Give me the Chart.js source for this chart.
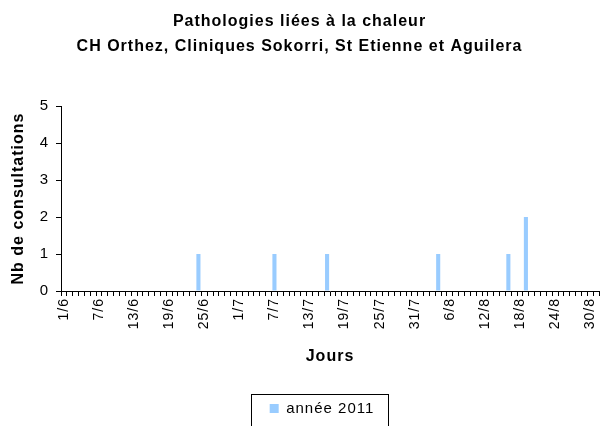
<!DOCTYPE html>
<html><head><meta charset="utf-8">
<script src="https://cdn.jsdelivr.net/npm/chart.js@4"></script>
<style>html,body{margin:0;padding:0;background:#fff}</style>
</head><body>
<canvas id="c" width="603" height="426"></canvas>
<script>
const days = [
 '1/6','2/6','3/6','4/6','5/6','6/6','7/6','8/6','9/6','10/6','11/6','12/6','13/6','14/6','15/6','16/6','17/6','18/6','19/6','20/6','21/6','22/6','23/6','24/6','25/6','26/6','27/6','28/6','29/6','30/6',
 '1/7','2/7','3/7','4/7','5/7','6/7','7/7','8/7','9/7','10/7','11/7','12/7','13/7','14/7','15/7','16/7','17/7','18/7','19/7','20/7','21/7','22/7','23/7','24/7','25/7','26/7','27/7','28/7','29/7','30/7','31/7',
 '1/8','2/8','3/8','4/8','5/8','6/8','7/8','8/8','9/8','10/8','11/8','12/8','13/8','14/8','15/8','16/8','17/8','18/8','19/8','20/8','21/8','22/8','23/8','24/8','25/8','26/8','27/8','28/8','29/8','30/8','31/8'
];
const cases2011 = [
 0,0,0,0,0,0,0,0,0,0,0,0,0,0,0,0,0,0,0,0,0,0,0,1,0,0,0,0,0,0,
 0,0,0,0,0,0,1,0,0,0,0,0,0,0,0,1,0,0,0,0,0,0,0,0,0,0,0,0,0,0,0,
 0,0,0,1,0,0,0,0,0,0,0,0,0,0,0,1,0,0,2,0,0,0,0,0,0,0,0,0,0,0,0
];
const seriesName = 'année 2011';
const titleLines = ['Pathologies liées à la chaleur', 'CH Orthez, Cliniques Sokorri, St Etienne et Aguilera'];
const yMin = 0, yMax = 5, yStep = 1;
const labelEvery = 6;

const FONT = "'Liberation Sans', Arial, sans-serif";
const SPACING = '1px';

const letterSpacing = {
  id: 'letterSpacing',
  beforeUpdate(chart) { chart.ctx.letterSpacing = SPACING; },
  beforeLayout(chart) { chart.ctx.letterSpacing = SPACING; },
  afterLayout(chart) {
    const lg = chart.legend;
    if (lg) { lg.left -= 8; lg.right -= 8; }
  },
  beforeDraw(chart) { chart.ctx.letterSpacing = SPACING; }
};

const legendBorder = {
  id: 'legendBorder',
  afterDraw(chart) {
    const lg = chart.legend;
    if (!lg || !lg.legendHitBoxes || !lg.legendHitBoxes.length) return;
    const hb = lg.legendHitBoxes[0];
    const ctx = chart.ctx;
    ctx.save();
    ctx.strokeStyle = '#000';
    ctx.lineWidth = 1;
    const l = Math.round(hb.left - 19) + 0.5;
    const r = Math.round(hb.left + hb.width + 14) + 0.5;
    const t = Math.round(hb.top - 7) + 0.5;
    const b = Math.round(hb.top + hb.height + 14) + 0.5;
    ctx.strokeRect(l, t, r - l, b - t);
    ctx.restore();
  }
};

new Chart(document.getElementById('c'), {
  type: 'bar',
  data: {
    labels: days,
    datasets: [{
      label: seriesName,
      data: cases2011,
      backgroundColor: '#99CCFF',
      borderWidth: 0,
      barPercentage: 0.7,
      categoryPercentage: 1
    }]
  },
  options: {
    responsive: false,
    animation: false,
    layout: { padding: { left: 0, right: 4, top: 0, bottom: 0 } },
    plugins: {
      title: {
        display: true,
        text: titleLines,
        color: '#000',
        font: { family: FONT, size: 16, weight: 'bold', lineHeight: 1.5625 },
        padding: { top: 9.5, bottom: 46.5 }
      },
      legend: {
        position: 'bottom',
        fullSize: false,
        labels: {
          color: '#000',
          font: { family: FONT, size: 15 },
          boxWidth: 9,
          boxHeight: 9,
          padding: 6
        }
      },
      tooltip: { enabled: false }
    },
    scales: {
      x: {
        offset: true,
        grid: { display: true, drawOnChartArea: false, drawTicks: true, tickLength: 5, color: '#000', offset: true },
        border: { display: true, color: '#000', width: 1 },
        ticks: {
          autoSkip: false,
          maxRotation: 90,
          minRotation: 90,
          padding: 2,
          color: '#000',
          font: { family: FONT, size: 14 },
          callback: function(v, i) { return i % labelEvery === 0 ? days[i] : ''; }
        },
        title: {
          display: true, text: 'Jours', color: '#000',
          font: { family: FONT, size: 16, weight: 'bold' },
          padding: { top: 0, bottom: 29 }
        },
        afterFit(scale) { scale.height = 104; scale.paddingLeft = 0; scale.paddingRight = 0; }
      },
      y: {
        min: yMin, max: yMax,
        grid: { display: true, drawOnChartArea: false, drawTicks: true, tickLength: 5, color: '#000' },
        border: { display: true, color: '#000', width: 1 },
        ticks: {
          stepSize: yStep, padding: 7, color: '#000',
          font: { family: FONT, size: 15 }
        },
        title: {
          display: true, text: 'Nb de consultations', color: '#000',
          font: { family: FONT, size: 16, weight: 'bold' },
          padding: { top: 9, bottom: 0 }
        },
        afterFit(scale) { scale.width = 61; }
      }
    }
  },
  plugins: [letterSpacing, legendBorder]
});
</script>
</body></html>
